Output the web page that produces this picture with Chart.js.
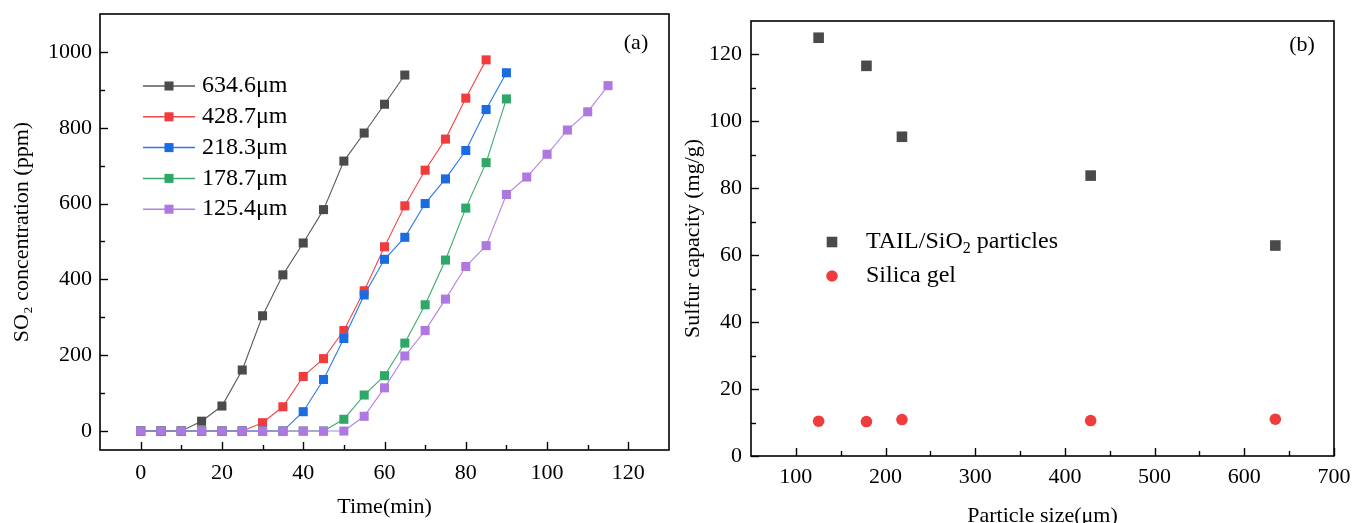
<!DOCTYPE html>
<html>
<head>
<meta charset="utf-8">
<script src="https://cdn.jsdelivr.net/npm/chart.js@4.4.1/dist/chart.umd.min.js"></script>
<style>
  html, body { margin: 0; padding: 0; background: #fff; overflow: hidden; width: 1354px; height: 523px; }
  #chartA { position: absolute; left: 0; top: 0; }
  #chartB { position: absolute; left: 680px; top: 0; }
</style>
</head>
<body>
<canvas id="chartA" width="680" height="523"></canvas>
<canvas id="chartB" width="674" height="540"></canvas>
<script>
// ---- panel (a): breakthrough curves ----
const time634 = [0, 5, 10, 15, 20, 25, 30, 35, 40, 45, 50, 55, 60, 65];
const so2_634 = [0, 0, 0, 26, 66, 161, 304, 412, 496, 584, 712, 786, 862, 939];
const time428 = [0, 5, 10, 15, 20, 25, 30, 35, 40, 45, 50, 55, 60, 65, 70, 75, 80, 85];
const so2_428 = [0, 0, 0, 0, 0, 0, 22, 64, 144, 191, 265, 370, 486, 594, 688, 770, 878, 979];
const time218 = [0, 5, 10, 15, 20, 25, 30, 35, 40, 45, 50, 55, 60, 65, 70, 75, 80, 85, 90];
const so2_218 = [0, 0, 0, 0, 0, 0, 0, 0, 51, 136, 244, 359, 453, 511, 600, 665, 740, 848, 945];
const time178 = [0, 5, 10, 15, 20, 25, 30, 35, 40, 45, 50, 55, 60, 65, 70, 75, 80, 85, 90];
const so2_178 = [0, 0, 0, 0, 0, 0, 0, 0, 0, 0, 31, 95, 146, 232, 333, 451, 588, 708, 876];
const time125 = [0, 5, 10, 15, 20, 25, 30, 35, 40, 45, 50, 55, 60, 65, 70, 75, 80, 85, 90, 95, 100, 105, 110, 115];
const so2_125 = [0, 0, 0, 0, 0, 0, 0, 0, 0, 0, 0, 39, 114, 198, 265, 348, 434, 489, 624, 670, 730, 794, 842, 911];

const xTicksA = [0, 20, 40, 60, 80, 100, 120];
const xMinorA = [10, 30, 50, 70, 90, 110];
const yTicksA = [0, 200, 400, 600, 800, 1000];
const yMinorA = [100, 300, 500, 700, 900];

// ---- panel (b): sulfur capacity vs particle size ----
const particleSize = [125.4, 178.7, 218.3, 428.7, 634.6];
const capacityTail = [125.0, 116.6, 95.4, 83.8, 62.9];
const capacitySilica = [10.4, 10.3, 10.9, 10.6, 11.0];

const xTicksB = [100, 200, 300, 400, 500, 600, 700];
const xMinorB = [150, 250, 350, 450, 550, 650];
const yTicksB = [0, 20, 40, 60, 80, 100, 120];
const yMinorB = [10, 30, 50, 70, 90, 110];

const serif = '"Liberation Serif", "Times New Roman", serif';

function pts(xs, ys) {
  return xs.map((x, i) => ({ x: x, y: ys[i] }));
}

// draws text, turning "₂" into a small lowered 2
function drawRich(ctx, text, x, y, size) {
  const parts = text.split('\u2082');
  let cx = x;
  parts.forEach((p, i) => {
    ctx.font = size + 'px ' + serif;
    ctx.fillText(p, cx, y);
    cx += ctx.measureText(p).width;
    if (i < parts.length - 1) {
      ctx.font = Math.round(size * 0.65) + 'px ' + serif;
      ctx.fillText('2', cx, y + size * 0.28);
      cx += ctx.measureText('2').width;
    }
  });
}

// box, inward ticks and panel letter
const framePlugin = {
  id: 'frame',
  afterDraw(chart, args, o) {
    const { ctx, chartArea: a, scales } = chart;
    ctx.save();
    ctx.strokeStyle = '#000';
    ctx.lineWidth = 1.6;
    ctx.strokeRect(a.left, a.top, a.right - a.left, a.bottom - a.top);
    ctx.lineWidth = 1.4;
    const tick = (scale, vals, len) => {
      for (const v of vals) {
        const p = Math.round(scale.getPixelForValue(v)) + 0.5;
        ctx.beginPath();
        if (scale.isHorizontal()) {
          ctx.moveTo(p, a.bottom);
          ctx.lineTo(p, a.bottom - len);
        } else {
          ctx.moveTo(a.left, p);
          ctx.lineTo(a.left + len, p);
        }
        ctx.stroke();
      }
    };
    tick(scales.x, o.xMajor, 8);
    tick(scales.x, o.xMinor, 5);
    tick(scales.y, o.yMajor, 8);
    tick(scales.y, o.yMinor, 5);
    ctx.fillStyle = '#000';
    ctx.font = '22px ' + serif;
    ctx.textAlign = 'center';
    ctx.textBaseline = 'middle';
    ctx.fillText(o.letter, a.right - o.letterDx, a.top + o.letterDy);
    ctx.restore();
  }
};

// legend drawn inside the plot from the datasets
const inLegend = {
  id: 'inLegend',
  afterDraw(chart, args, o) {
    const ctx = chart.ctx;
    ctx.save();
    chart.data.datasets.forEach((ds, i) => {
      const y = o.y + i * o.dy;
      if (o.lineHalf) {
        ctx.strokeStyle = ds.borderColor;
        ctx.lineWidth = 1.5;
        ctx.beginPath();
        ctx.moveTo(o.x - o.lineHalf, y);
        ctx.lineTo(o.x + o.lineHalf, y);
        ctx.stroke();
      }
      ctx.fillStyle = ds.pointBackgroundColor;
      ctx.beginPath();
      if (ds.pointStyle === 'circle') {
        ctx.arc(o.x, y, ds.pointRadius, 0, Math.PI * 2);
      } else {
        const s = ds.pointRadius * Math.SQRT1_2;
        ctx.rect(o.x - s, y - s, 2 * s, 2 * s);
      }
      ctx.fill();
      ctx.fillStyle = '#000';
      ctx.textAlign = 'left';
      ctx.textBaseline = 'middle';
      drawRich(ctx, ds.label, o.textX, y, o.size);
    });
    ctx.restore();
  }
};

function lineSet(label, xs, ys, line, fill, order) {
  return {
    label: label,
    data: pts(xs, ys),
    borderColor: line,
    borderWidth: 1.1,
    pointStyle: 'rect',
    pointRadius: 6.4,
    pointHoverRadius: 6.4,
    pointBorderWidth: 0,
    pointBackgroundColor: fill,
    tension: 0,
    order: order
  };
}

const tickFont = { family: serif, size: 22 };
const titleFont = { family: serif, size: 22 };
const plain = v => String(v);

// fixed axis sizes so the plot boxes land where they are in the figure
function fixX(h) {
  return s => { s.height = h; s.paddingLeft = 0; s.paddingRight = 0; };
}
function fixY(w) {
  return s => { s.width = w; s.paddingTop = 0; s.paddingBottom = 0; };
}

new Chart(document.getElementById('chartA'), {
  type: 'line',
  data: {
    datasets: [
      lineSet('634.6\u03bcm', time634, so2_634, '#5a5a5a', '#4b4b4b', 4),
      lineSet('428.7\u03bcm', time428, so2_428, '#f04848', '#f03c3c', 3),
      lineSet('218.3\u03bcm', time218, so2_218, '#2a78e4', '#1a6ce0', 2),
      lineSet('178.7\u03bcm', time178, so2_178, '#3aaa6c', '#2ea866', 1),
      lineSet('125.4\u03bcm', time125, so2_125, '#b482e4', '#ae78e0', 0)
    ]
  },
  options: {
    responsive: false,
    animation: false,
    events: [],
    layout: { padding: { top: 14, right: 11, left: 0, bottom: 0 } },
    plugins: {
      legend: { display: false },
      tooltip: { enabled: false },
      frame: { xMajor: xTicksA, xMinor: xMinorA, yMajor: yTicksA, yMinor: yMinorA, letter: '(a)', letterDx: 33, letterDy: 29 },
      inLegend: { x: 169, y: 86, dy: 30.8, lineHalf: 26, textX: 202, size: 24 }
    },
    scales: {
      x: {
        type: 'linear', min: -10, max: 130,
        afterBuildTicks: s => { s.ticks = xTicksA.map(v => ({ value: v })); },
        afterFit: fixX(73),
        grid: { display: false, drawTicks: false },
        border: { display: false },
        ticks: { font: tickFont, color: '#000', padding: 10, maxRotation: 0, autoSkip: false, callback: plain },
        title: { display: true, text: 'Time(min)', font: titleFont, color: '#000', padding: { top: 0, bottom: 3 } }
      },
      y: {
        type: 'linear', min: -50, max: 1100,
        afterBuildTicks: s => { s.ticks = yTicksA.map(v => ({ value: v })); },
        afterFit: fixY(100),
        grid: { display: false, drawTicks: false },
        border: { display: false },
        ticks: { font: tickFont, color: '#000', padding: 8, autoSkip: false, callback: plain },
        title: { display: true, text: 'SO\u2082 concentration (ppm)', font: titleFont, color: '#000', padding: { top: 9, bottom: 0 } }
      }
    }
  },
  plugins: [framePlugin, inLegend]
});

new Chart(document.getElementById('chartB'), {
  type: 'scatter',
  data: {
    datasets: [
      {
        label: 'TAIL/SiO\u2082 particles',
        data: pts(particleSize, capacityTail),
        pointStyle: 'rect',
        pointRadius: 7.5,
        pointHoverRadius: 7.5,
        pointBorderWidth: 0,
        pointBackgroundColor: '#4a4a4a',
        borderColor: '#4a4a4a'
      },
      {
        label: 'Silica gel',
        data: pts(particleSize, capacitySilica),
        pointStyle: 'circle',
        pointRadius: 5.8,
        pointHoverRadius: 5.8,
        pointBorderWidth: 0,
        pointBackgroundColor: '#f03c3c',
        borderColor: '#f03c3c'
      }
    ]
  },
  options: {
    responsive: false,
    animation: false,
    events: [],
    layout: { padding: { top: 21, right: 20, left: 0, bottom: 0 } },
    plugins: {
      legend: { display: false },
      tooltip: { enabled: false },
      frame: { xMajor: xTicksB, xMinor: xMinorB, yMajor: yTicksB, yMinor: yMinorB, letter: '(b)', letterDx: 32, letterDy: 24 },
      inLegend: { x: 152, y: 242, dy: 34, lineHalf: 0, textX: 186, size: 24 }
    },
    scales: {
      x: {
        type: 'linear', min: 50, max: 700,
        afterBuildTicks: s => { s.ticks = xTicksB.map(v => ({ value: v })); },
        afterFit: fixX(84),
        grid: { display: false, drawTicks: false },
        border: { display: false },
        ticks: { font: tickFont, color: '#000', padding: 8, maxRotation: 0, autoSkip: false, callback: plain },
        title: { display: true, text: 'Particle size(\u03bcm)', font: titleFont, color: '#000', padding: { top: 0, bottom: 11 } }
      },
      y: {
        type: 'linear', min: 0, max: 130,
        afterBuildTicks: s => { s.ticks = yTicksB.map(v => ({ value: v })); },
        afterFit: fixY(71),
        grid: { display: false, drawTicks: false },
        border: { display: false },
        ticks: { font: tickFont, color: '#000', padding: 9, autoSkip: false, callback: plain },
        title: { display: true, text: 'Sulfur capacity (mg/g)', font: titleFont, color: '#000', padding: { top: 0, bottom: 0 } }
      }
    }
  },
  plugins: [framePlugin, inLegend]
});
</script>
</body>
</html>
